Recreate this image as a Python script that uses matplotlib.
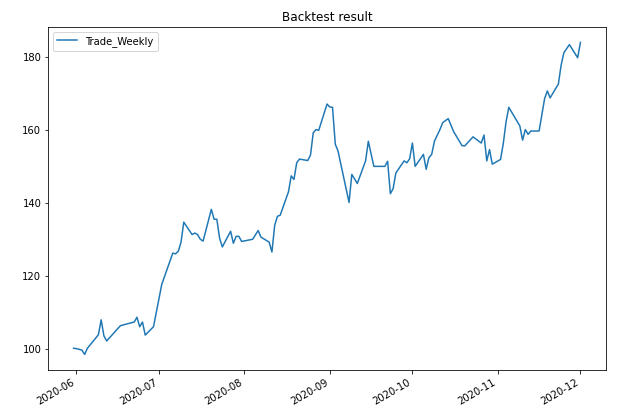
import pandas as pd
import matplotlib
matplotlib.use("Agg")
import matplotlib.pyplot as plt
import matplotlib.dates as mdates

dates = [
    "2020-05-31", "2020-06-01", "2020-06-03", "2020-06-04", "2020-06-05",
    "2020-06-09", "2020-06-10", "2020-06-11", "2020-06-12", "2020-06-17",
    "2020-06-19", "2020-06-22", "2020-06-23", "2020-06-24", "2020-06-25",
    "2020-06-26", "2020-06-29", "2020-07-02", "2020-07-06", "2020-07-07",
    "2020-07-08", "2020-07-09", "2020-07-10", "2020-07-13", "2020-07-14",
    "2020-07-15", "2020-07-16", "2020-07-17", "2020-07-20", "2020-07-21",
    "2020-07-22", "2020-07-23", "2020-07-24", "2020-07-27", "2020-07-28",
    "2020-07-29", "2020-07-30", "2020-07-31", "2020-08-04", "2020-08-06",
    "2020-08-07", "2020-08-10", "2020-08-11", "2020-08-12", "2020-08-13",
    "2020-08-14", "2020-08-17", "2020-08-18", "2020-08-19", "2020-08-20",
    "2020-08-21", "2020-08-24", "2020-08-25", "2020-08-26", "2020-08-27",
    "2020-08-28", "2020-08-31", "2020-09-01", "2020-09-02", "2020-09-03",
    "2020-09-04", "2020-09-08", "2020-09-09", "2020-09-11", "2020-09-14",
    "2020-09-15", "2020-09-17", "2020-09-21", "2020-09-22", "2020-09-23",
    "2020-09-24", "2020-09-25", "2020-09-28", "2020-09-29", "2020-09-30",
    "2020-10-01", "2020-10-02", "2020-10-05", "2020-10-06", "2020-10-07",
    "2020-10-08", "2020-10-09", "2020-10-11", "2020-10-12", "2020-10-14",
    "2020-10-16", "2020-10-19", "2020-10-20", "2020-10-23", "2020-10-26",
    "2020-10-27", "2020-10-28", "2020-10-29", "2020-10-30", "2020-11-02",
    "2020-11-03", "2020-11-04", "2020-11-05", "2020-11-09", "2020-11-10",
    "2020-11-11", "2020-11-12", "2020-11-13", "2020-11-16", "2020-11-18",
    "2020-11-19", "2020-11-20", "2020-11-23", "2020-11-24", "2020-11-25",
    "2020-11-27", "2020-11-30", "2020-12-01",
]

trade_weekly = [
    100.1, 100.0, 99.6, 98.4, 100.1,
    103.8, 107.9, 103.5, 102.1, 106.3,
    106.7, 107.3, 108.6, 106.0, 107.3,
    103.7, 106.0, 117.6, 126.2, 126.0,
    126.7, 129.2, 134.7, 131.3, 131.7,
    131.3, 130.0, 129.5, 138.2, 135.5,
    135.5, 130.3, 127.9, 132.2, 128.9,
    130.8, 130.8, 129.4, 130.0, 132.4,
    130.6, 129.2, 126.5, 133.8, 136.3,
    136.6, 143.0, 147.4, 146.4, 151.0,
    152.0, 151.6, 153.1, 159.2, 160.1,
    159.9, 167.1, 166.3, 166.2, 156.1,
    154.2, 140.1, 147.8, 145.3, 151.5,
    156.9, 150.0, 150.0, 151.4, 142.5,
    143.9, 148.2, 151.5, 151.0, 152.1,
    156.4, 150.0, 153.3, 149.2, 152.4,
    153.3, 156.9, 160.1, 162.0, 163.1,
    159.5, 155.7, 155.6, 158.1, 156.4,
    158.6, 151.5, 154.6, 150.6, 151.9,
    156.3, 162.2, 166.2, 161.1, 157.2,
    160.1, 158.8, 159.7, 159.7, 168.6,
    170.7, 168.8, 172.6, 177.8, 181.2,
    183.4, 179.8, 184.0,
]

x = pd.to_datetime(dates)

fig, ax = plt.subplots(figsize=(631 / 72, 413 / 72), dpi=72)
ax.plot(x, trade_weekly, label="Trade_Weekly")
ax.set_title("Backtest result")
ax.legend(loc="upper left")

ax.xaxis.set_major_locator(mdates.MonthLocator())
ax.xaxis.set_major_formatter(mdates.DateFormatter("%Y-%m"))
fig.autofmt_xdate(bottom=0.104)

fig.subplots_adjust(left=0.0765, right=0.960, bottom=0.104, top=0.935)
fig.savefig("out.png", dpi=72)
